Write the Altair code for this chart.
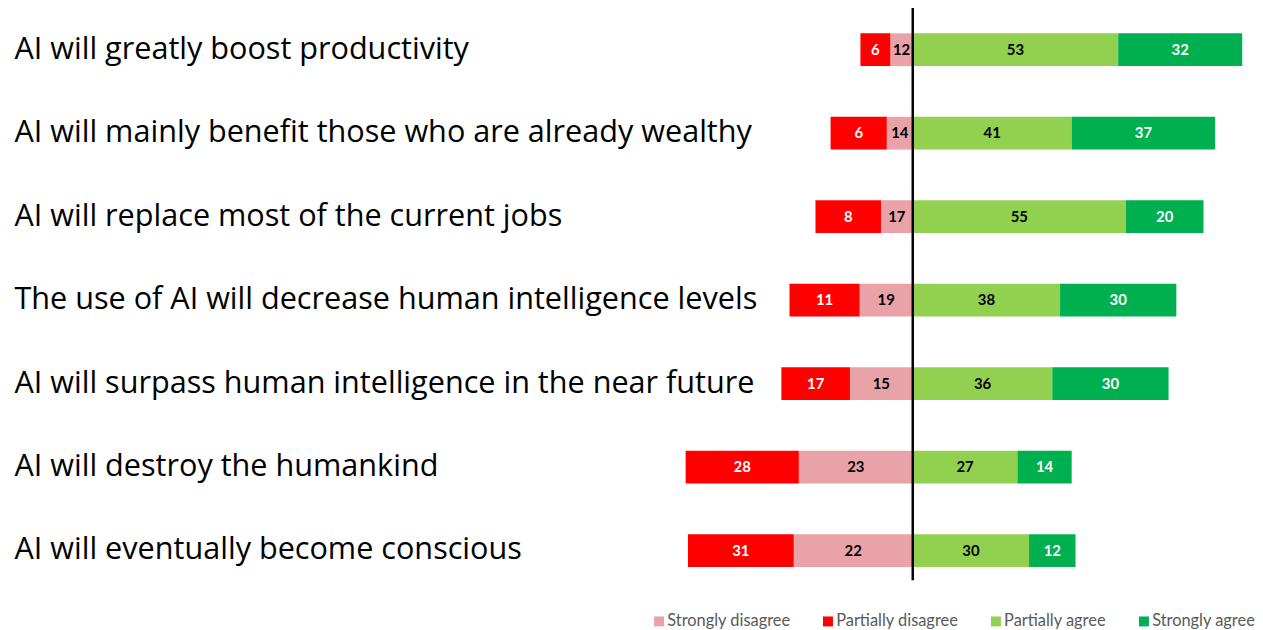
import altair as alt
import pandas as pd

statements = [
    "AI will greatly boost productivity",
    "AI will mainly benefit those who are already wealthy",
    "AI will replace most of the current jobs",
    "The use of AI will decrease human intelligence levels",
    "AI will surpass human intelligence in the near future",
    "AI will destroy the humankind",
    "AI will eventually become conscious",
]
categories = ["Strongly disagree", "Partially disagree", "Partially agree", "Strongly agree"]
colors = ["#E9A2A8", "#FF0000", "#92D050", "#00B050"]
text_colors = ["black", "white", "black", "white"]

# printed values
strongly_disagree_label = [12, 14, 17, 19, 15, 23, 22]
partially_disagree_label = [6, 6, 8, 11, 17, 28, 31]
partially_agree = [53, 41, 55, 38, 36, 27, 30]
strongly_agree = [32, 37, 20, 30, 30, 14, 12]
# drawn bar lengths on the disagree side
strongly_disagree_bar = [5.8, 6.7, 8.2, 13.7, 16.2, 29.4, 30.7]
partially_disagree_bar = [7.7, 14.5, 16.9, 18.1, 17.7, 29.2, 27.3]

rows = []
for i, s in enumerate(statements):
    a = strongly_disagree_bar[i]
    b = partially_disagree_bar[i]
    c = partially_agree[i]
    d = strongly_agree[i]
    segs = [
        (categories[0], -a, 0, strongly_disagree_label[i], text_colors[0]),
        (categories[1], -(a + b), -a, partially_disagree_label[i], text_colors[1]),
        (categories[2], 0, c, c, text_colors[2]),
        (categories[3], c, c + d, d, text_colors[3]),
    ]
    for cat, x0, x1, lab, tc in segs:
        rows.append({"statement": s, "category": cat, "start": x0, "end": x1,
                     "mid": (x0 + x1) / 2, "label": str(lab), "tcolor": tc})
df = pd.DataFrame(rows)

xscale = alt.Scale(domain=[-65, 86.5], nice=False, zero=False)
yscale = alt.Scale(domain=statements, paddingInner=0.5, paddingOuter=0.226)

base = alt.Chart(df)

bars = base.mark_bar(size=33).encode(
    x=alt.X("start:Q", scale=xscale, axis=None),
    x2="end:Q",
    y=alt.Y("statement:N", scale=yscale, sort=statements, title=None,
            axis=alt.Axis(labelAlign="left", labelPadding=651, labelFontSize=30.8,
                          labelFont="Open Sans", labelColor="black", labelLimit=900,
                          ticks=False, tickSize=0, domain=False, grid=False)),
    color=alt.Color("category:N",
                    scale=alt.Scale(domain=categories, range=colors),
                    legend=alt.Legend(title=None, orient="none", direction="horizontal",
                                      legendX=-10, legendY=607, symbolType="square",
                                      symbolSize=100, symbolStrokeWidth=0,
                                      labelFontSize=16.5, labelFont="Lato",
                                      labelColor="#595959", columnPadding=29,
                                      labelOffset=0)),
)

labels = base.mark_text(font="Lato", fontWeight="bold", fontSize=15).encode(
    x=alt.X("mid:Q", scale=xscale),
    y=alt.Y("statement:N", scale=yscale, sort=statements),
    text="label:N",
    color=alt.Color("tcolor:N", scale=None),
)

rule = alt.Chart(pd.DataFrame({"z": [0]})).mark_rule(color="black", strokeWidth=2.5).encode(
    x=alt.X("z:Q", scale=xscale),
    y=alt.value(-4),
    y2=alt.value(574),
)

chart = alt.layer(bars, labels, rule).properties(
    width=591, height=584,
    autosize=alt.AutoSizeParams(type="none"),
    padding={"left": 657, "top": 0, "right": 7, "bottom": 40},
).configure_view(stroke=None)

chart.save("out.html", embed_options={"renderer": "svg", "actions": False})
